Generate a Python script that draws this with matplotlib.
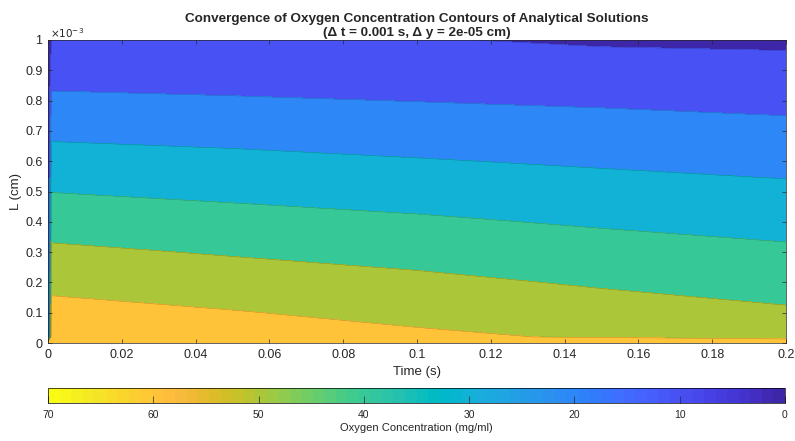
import numpy as np
import matplotlib
matplotlib.use("Agg")
import matplotlib.pyplot as plt
from matplotlib.colors import ListedColormap, Normalize
from matplotlib.cm import ScalarMappable
from matplotlib.ticker import FuncFormatter, MultipleLocator

plt.rcParams['font.family'] = ['Liberation Sans', 'DejaVu Sans']

# ---------------- data ----------------
time_s = [0.0, 0.001, 0.05, 0.1, 0.15, 0.2]
depth_cm = [0.0, 0.00002, 0.0001, 0.0002, 0.0003, 0.0004, 0.0005,
            0.0006, 0.0007, 0.0008, 0.0009, 0.001]

# oxygen concentration (mg/ml) profiles along depth, one per time
conc_t0000 = [70, 0, 0, 0, 0, 0, 0, 0, 0, 0, 0, 0]
conc_t0001 = [70, 68.8, 63.2, 57.5, 51.8, 45.9, 39.8, 33.9, 27.9, 21.9, 15.9, 10.2]
conc_t0050 = [70, 65.1, 60.5, 54.8, 49.2, 43.5, 37.9, 32.4, 26.7, 20.9, 15.3, 10.6]
conc_t0100 = [70, 61.7, 57.4, 52.1, 46.8, 41.4, 36.0, 30.6, 25.2, 19.8, 14.8, 10.5]
conc_t0150 = [70, 59.0, 54.0, 49.0, 44.0, 38.9, 33.9, 28.8, 23.8, 18.8, 13.8, 8.9]
conc_t0200 = [70, 55.0, 51.2, 46.4, 41.6, 36.8, 32.0, 27.2, 22.4, 17.6, 13.0, 8.4]

levels = [0, 10, 20, 30, 40, 50, 60, 70]
x_ticks = [0, 0.02, 0.04, 0.06, 0.08, 0.1, 0.12, 0.14, 0.16, 0.18, 0.2]

# MATLAB parula colormap (64 entries)
parula_rgb = [
    [0.2422, 0.1504, 0.6603], [0.2504, 0.1650, 0.7076], [0.2578, 0.1818, 0.7511],
    [0.2647, 0.1978, 0.7952], [0.2706, 0.2147, 0.8364], [0.2751, 0.2342, 0.8710],
    [0.2783, 0.2559, 0.8991], [0.2803, 0.2782, 0.9221], [0.2813, 0.3006, 0.9414],
    [0.2810, 0.3228, 0.9579], [0.2795, 0.3447, 0.9717], [0.2760, 0.3667, 0.9829],
    [0.2699, 0.3892, 0.9906], [0.2602, 0.4123, 0.9952], [0.2440, 0.4358, 0.9988],
    [0.2206, 0.4603, 0.9973], [0.1963, 0.4847, 0.9892], [0.1834, 0.5074, 0.9798],
    [0.1786, 0.5289, 0.9682], [0.1764, 0.5499, 0.9520], [0.1687, 0.5703, 0.9359],
    [0.1540, 0.5902, 0.9218], [0.1460, 0.6091, 0.9079], [0.1380, 0.6276, 0.8973],
    [0.1248, 0.6459, 0.8883], [0.1113, 0.6635, 0.8763], [0.0952, 0.6798, 0.8598],
    [0.0689, 0.6948, 0.8394], [0.0297, 0.7082, 0.8163], [0.0036, 0.7203, 0.7917],
    [0.0067, 0.7312, 0.7660], [0.0433, 0.7411, 0.7394], [0.0964, 0.7500, 0.7120],
    [0.1408, 0.7584, 0.6842], [0.1717, 0.7670, 0.6554], [0.1938, 0.7758, 0.6251],
    [0.2161, 0.7843, 0.5923], [0.2470, 0.7918, 0.5567], [0.2906, 0.7973, 0.5188],
    [0.3406, 0.8008, 0.4789], [0.3909, 0.8029, 0.4354], [0.4456, 0.8024, 0.3909],
    [0.5044, 0.7993, 0.3480], [0.5616, 0.7942, 0.3045], [0.6174, 0.7876, 0.2612],
    [0.6720, 0.7793, 0.2227], [0.7242, 0.7698, 0.1910], [0.7738, 0.7598, 0.1646],
    [0.8203, 0.7498, 0.1535], [0.8634, 0.7406, 0.1596], [0.9035, 0.7330, 0.1774],
    [0.9393, 0.7288, 0.2100], [0.9728, 0.7298, 0.2394], [0.9956, 0.7434, 0.2371],
    [0.9970, 0.7659, 0.2199], [0.9952, 0.7893, 0.2028], [0.9892, 0.8136, 0.1885],
    [0.9786, 0.8386, 0.1766], [0.9676, 0.8639, 0.1643], [0.9610, 0.8890, 0.1537],
    [0.9597, 0.9135, 0.1423], [0.9628, 0.9373, 0.1265], [0.9691, 0.9606, 0.1064],
    [0.9769, 0.9839, 0.0805]]
parula = ListedColormap(parula_rgb, name="parula")

# ---------------- figure ----------------
W, H = 795, 441
fig = plt.figure(figsize=(W / 100, H / 100), dpi=100)
txt = (0.15, 0.15, 0.15)

ax = fig.add_axes([48 / W, 1 - 343 / H, (786 - 48) / W, (343 - 40) / H])
T, Y = np.meshgrid(time_s, depth_cm)
Z = np.column_stack([conc_t0000, conc_t0001, conc_t0050,
                     conc_t0100, conc_t0150, conc_t0200])

vmin, vmax = levels[0], levels[-1]
band_colors = [parula((lv - vmin) / (vmax - vmin)) for lv in levels[:-1]]
ax.contourf(T, Y, Z, levels=levels, colors=band_colors)
ax.contour(T, Y, Z, levels=levels[1:-1], colors='k', linewidths=0.35, alpha=0.3)

ax.set_xlim(0, 0.2)
ax.set_ylim(0, 0.001)
ax.set_xticks(x_ticks)
ax.xaxis.set_major_formatter(FuncFormatter(lambda v, p: f"{v:g}"))
ax.yaxis.set_major_locator(MultipleLocator(0.0001))
ax.yaxis.set_major_formatter(FuncFormatter(lambda v, p: f"{round(v * 1e3, 3):g}"))
ax.tick_params(direction='in', top=True, right=True, length=3, width=0.5,
               labelsize=9, color=txt, labelcolor=txt, pad=4)
for s in ax.spines.values():
    s.set_linewidth(0.5)
    s.set_color(txt)

ax.text(0.003, 1.0, r'$\times10^{-3}$', transform=ax.transAxes, fontsize=7.5,
        ha='left', va='bottom', color=txt)

ax.set_xlabel("Time (s)", fontsize=9.5, color=txt, labelpad=4)
ax.set_ylabel("L (cm)", fontsize=9.5, color=txt, labelpad=2)
ax.set_title("Convergence of Oxygen Concentration Contours of Analytical Solutions\n"
             "(\u0394 t = 0.001 s, \u0394 y = 2e-05 cm)",
             fontsize=9.7, fontweight='bold', color=txt, linespacing=1.15, pad=3)

# colorbar
cax = fig.add_axes([48 / W, 1 - 403 / H, (785 - 48) / W, 15 / H])
sm = ScalarMappable(norm=Normalize(vmin, vmax), cmap=parula)
cb = fig.colorbar(sm, cax=cax, orientation='horizontal', ticks=levels)
cax.invert_xaxis()
cax.tick_params(direction='in', length=5, width=0.5, labelsize=7.5,
                color=txt, labelcolor=txt, pad=5)
cb.outline.set_linewidth(0.5)
cb.set_label("Oxygen Concentration (mg/ml)", fontsize=8, color=txt, labelpad=2)

fig.savefig("out.png", dpi=100)
